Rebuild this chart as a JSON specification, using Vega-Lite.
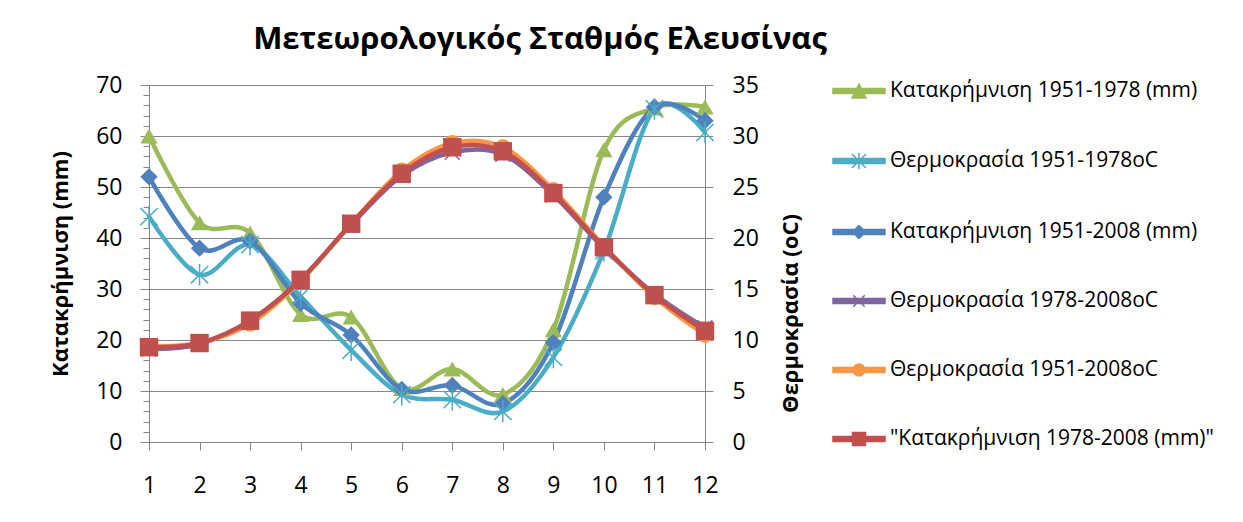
{
  "$schema": "https://vega.github.io/schema/vega-lite/v6.json",
  "width": 556,
  "height": 357,
  "autosize": "none",
  "padding": {"left": 149, "top": 85, "right": 538, "bottom": 80},
  "background": "white",
  "title": {"text": "Μετεωρολογικός Σταθμός Ελευσίνας", "font": "Open Sans", "fontSize": 31, "fontWeight": "bold", "color": "black", "anchor": "middle", "frame": "group", "dx": 113, "offset": 8},
  "data": {"values": [
    {"month": 1, "series": "Κατακρήμνιση 1951-1978 (mm)", "value": 60},
    {"month": 2, "series": "Κατακρήμνιση 1951-1978 (mm)", "value": 43},
    {"month": 3, "series": "Κατακρήμνιση 1951-1978 (mm)", "value": 41},
    {"month": 4, "series": "Κατακρήμνιση 1951-1978 (mm)", "value": 25},
    {"month": 5, "series": "Κατακρήμνιση 1951-1978 (mm)", "value": 24.5},
    {"month": 6, "series": "Κατακρήμνιση 1951-1978 (mm)", "value": 10.5},
    {"month": 7, "series": "Κατακρήμνιση 1951-1978 (mm)", "value": 14.3},
    {"month": 8, "series": "Κατακρήμνιση 1951-1978 (mm)", "value": 9.3},
    {"month": 9, "series": "Κατακρήμνιση 1951-1978 (mm)", "value": 22},
    {"month": 10, "series": "Κατακρήμνιση 1951-1978 (mm)", "value": 57.3},
    {"month": 11, "series": "Κατακρήμνιση 1951-1978 (mm)", "value": 65.5},
    {"month": 12, "series": "Κατακρήμνιση 1951-1978 (mm)", "value": 65.7},
    {"month": 1, "series": "Θερμοκρασία 1951-1978oC", "value": 44.2},
    {"month": 2, "series": "Θερμοκρασία 1951-1978oC", "value": 32.8},
    {"month": 3, "series": "Θερμοκρασία 1951-1978oC", "value": 38.7},
    {"month": 4, "series": "Θερμοκρασία 1951-1978oC", "value": 28.5},
    {"month": 5, "series": "Θερμοκρασία 1951-1978oC", "value": 18},
    {"month": 6, "series": "Θερμοκρασία 1951-1978oC", "value": 9.3},
    {"month": 7, "series": "Θερμοκρασία 1951-1978oC", "value": 8.3},
    {"month": 8, "series": "Θερμοκρασία 1951-1978oC", "value": 6},
    {"month": 9, "series": "Θερμοκρασία 1951-1978oC", "value": 16.6},
    {"month": 10, "series": "Θερμοκρασία 1951-1978oC", "value": 37.5},
    {"month": 11, "series": "Θερμοκρασία 1951-1978oC", "value": 65.3},
    {"month": 12, "series": "Θερμοκρασία 1951-1978oC", "value": 60.7},
    {"month": 1, "series": "Κατακρήμνιση 1951-2008 (mm)", "value": 52},
    {"month": 2, "series": "Κατακρήμνιση 1951-2008 (mm)", "value": 38},
    {"month": 3, "series": "Κατακρήμνιση 1951-2008 (mm)", "value": 39.4},
    {"month": 4, "series": "Κατακρήμνιση 1951-2008 (mm)", "value": 27.2},
    {"month": 5, "series": "Κατακρήμνιση 1951-2008 (mm)", "value": 21},
    {"month": 6, "series": "Κατακρήμνιση 1951-2008 (mm)", "value": 10.3},
    {"month": 7, "series": "Κατακρήμνιση 1951-2008 (mm)", "value": 11.1},
    {"month": 8, "series": "Κατακρήμνιση 1951-2008 (mm)", "value": 7.5},
    {"month": 9, "series": "Κατακρήμνιση 1951-2008 (mm)", "value": 19.5},
    {"month": 10, "series": "Κατακρήμνιση 1951-2008 (mm)", "value": 48},
    {"month": 11, "series": "Κατακρήμνιση 1951-2008 (mm)", "value": 65.7},
    {"month": 12, "series": "Κατακρήμνιση 1951-2008 (mm)", "value": 63},
    {"month": 1, "series": "Θερμοκρασία 1978-2008oC", "value": 9.1},
    {"month": 2, "series": "Θερμοκρασία 1978-2008oC", "value": 9.6},
    {"month": 3, "series": "Θερμοκρασία 1978-2008oC", "value": 11.9},
    {"month": 4, "series": "Θερμοκρασία 1978-2008oC", "value": 15.9},
    {"month": 5, "series": "Θερμοκρασία 1978-2008oC", "value": 21.3},
    {"month": 6, "series": "Θερμοκρασία 1978-2008oC", "value": 26.1},
    {"month": 7, "series": "Θερμοκρασία 1978-2008oC", "value": 28.4},
    {"month": 8, "series": "Θερμοκρασία 1978-2008oC", "value": 28.2},
    {"month": 9, "series": "Θερμοκρασία 1978-2008oC", "value": 24.2},
    {"month": 10, "series": "Θερμοκρασία 1978-2008oC", "value": 19},
    {"month": 11, "series": "Θερμοκρασία 1978-2008oC", "value": 14.5},
    {"month": 12, "series": "Θερμοκρασία 1978-2008oC", "value": 11.2},
    {"month": 1, "series": "Θερμοκρασία 1951-2008oC", "value": 9.4},
    {"month": 2, "series": "Θερμοκρασία 1951-2008oC", "value": 9.7},
    {"month": 3, "series": "Θερμοκρασία 1951-2008oC", "value": 11.6},
    {"month": 4, "series": "Θερμοκρασία 1951-2008oC", "value": 15.8},
    {"month": 5, "series": "Θερμοκρασία 1951-2008oC", "value": 21.4},
    {"month": 6, "series": "Θερμοκρασία 1951-2008oC", "value": 26.6},
    {"month": 7, "series": "Θερμοκρασία 1951-2008oC", "value": 29.3},
    {"month": 8, "series": "Θερμοκρασία 1951-2008oC", "value": 28.9},
    {"month": 9, "series": "Θερμοκρασία 1951-2008oC", "value": 24.7},
    {"month": 10, "series": "Θερμοκρασία 1951-2008oC", "value": 19.2},
    {"month": 11, "series": "Θερμοκρασία 1951-2008oC", "value": 14.2},
    {"month": 12, "series": "Θερμοκρασία 1951-2008oC", "value": 10.5},
    {"month": 1, "series": "\"Κατακρήμνιση 1978-2008 (mm)\"", "value": 9.3},
    {"month": 2, "series": "\"Κατακρήμνιση 1978-2008 (mm)\"", "value": 9.7},
    {"month": 3, "series": "\"Κατακρήμνιση 1978-2008 (mm)\"", "value": 11.9},
    {"month": 4, "series": "\"Κατακρήμνιση 1978-2008 (mm)\"", "value": 15.9},
    {"month": 5, "series": "\"Κατακρήμνιση 1978-2008 (mm)\"", "value": 21.4},
    {"month": 6, "series": "\"Κατακρήμνιση 1978-2008 (mm)\"", "value": 26.3},
    {"month": 7, "series": "\"Κατακρήμνιση 1978-2008 (mm)\"", "value": 28.9},
    {"month": 8, "series": "\"Κατακρήμνιση 1978-2008 (mm)\"", "value": 28.5},
    {"month": 9, "series": "\"Κατακρήμνιση 1978-2008 (mm)\"", "value": 24.4},
    {"month": 10, "series": "\"Κατακρήμνιση 1978-2008 (mm)\"", "value": 19.1},
    {"month": 11, "series": "\"Κατακρήμνιση 1978-2008 (mm)\"", "value": 14.4},
    {"month": 12, "series": "\"Κατακρήμνιση 1978-2008 (mm)\"", "value": 10.9}
  ]},
  "layer": [
    {
      "transform": [{"filter": {"field": "series", "oneOf": ["Κατακρήμνιση 1951-1978 (mm)", "Θερμοκρασία 1951-1978oC", "Κατακρήμνιση 1951-2008 (mm)"]}}],
      "encoding": {
        "x": {"field": "month", "type": "quantitative", "scale": {"domain": [1, 12], "nice": false, "zero": false},
              "axis": {"values": [1,2,3,4,5,6,7,8,9,10,11,12], "format": "d", "grid": false, "tickSize": 8, "labelPadding": 24, "title": null, "domainColor": "#868686", "tickColor": "#868686", "labelFlush": false}},
        "y": {"field": "value", "type": "quantitative", "scale": {"domain": [0, 70], "nice": false},
              "axis": {"orient": "left", "values": [0,10,20,30,40,50,60,70], "title": "Κατακρήμνιση (mm)", "grid": true, "gridColor": "#868686", "domainColor": "#868686", "tickColor": "#868686", "tickSize": 9, "labelPadding": 18, "titleX": -89, "titleY": 178.5, "titleAngle": -90, "titleAlign": "center", "titleBaseline": "middle"}},
        "color": {"field": "series", "type": "nominal",
                  "scale": {"domain": ["Κατακρήμνιση 1951-1978 (mm)", "Θερμοκρασία 1951-1978oC", "Κατακρήμνιση 1951-2008 (mm)", "Θερμοκρασία 1978-2008oC", "Θερμοκρασία 1951-2008oC", "\"Κατακρήμνιση 1978-2008 (mm)\""],
                            "range": ["#9BBB59", "#4BACC6", "#4F81BD", "#8064A2", "#F79646", "#C0504D"]},
                  "legend": {"orient": "none", "legendX": 683, "legendY": -21, "title": null, "labelFont": "Open Sans", "labelFontSize": 21, "labelColor": "black", "labelLimit": 0, "symbolSize": 2704, "symbolStrokeWidth": 1.5, "rowPadding": 32, "labelOffset": 4,
                    "encode": {"symbols": {"update": {
                      "shape": {"signal": "['M-1,-0.1H1V0.1H-1ZM-0.27,0.27L0,-0.27L0.27,0.27Z', 'M-1,-0.1H1V0.1H-1ZM-0.27,-0.27L0.27,0.27M0.27,-0.27L-0.27,0.27M0,-0.32V0.32', 'M-1,-0.1H1V0.1H-1ZM-0.25,0L0,-0.25L0.25,0L0,0.25Z', 'M-1,-0.1H1V0.1H-1ZM-0.22,-0.22L0.22,0.22M0.22,-0.22L-0.22,0.22', 'M-1,-0.1H1V0.1H-1ZM-0.23,0A0.23,0.23,0,1,1,0.23,0A0.23,0.23,0,1,1,-0.23,0Z', 'M-1,-0.1H1V0.1H-1ZM-0.25,-0.25H0.25V0.25H-0.25Z'][indexof(domain('color'), datum.value)]"},
                      "fill": {"scale": "color", "field": "value"},
                      "stroke": {"scale": "color", "field": "value"},
                      "strokeWidth": {"value": 1.5},
                      "opacity": {"value": 1},
                      "size": {"value": 2704}
                    }}}}
        }
      },
      "layer": [
        {"mark": {"type": "line", "interpolate": "cardinal", "strokeWidth": 4.5, "strokeJoin": "round", "strokeCap": "round"}},
        {"transform": [{"filter": {"field": "series", "oneOf": ["Κατακρήμνιση 1951-1978 (mm)"]}}],
         "mark": {"type": "point", "filled": true, "opacity": 1, "size": 300, "shape": "triangle-up"}},
        {"transform": [{"filter": {"field": "series", "oneOf": ["Κατακρήμνιση 1951-2008 (mm)"]}}],
         "mark": {"type": "point", "filled": true, "opacity": 1, "size": 300, "shape": "diamond"}},
        {"transform": [{"filter": {"field": "series", "oneOf": ["Θερμοκρασία 1951-1978oC"]}}],
         "mark": {"type": "point", "filled": false, "opacity": 1, "size": 300, "strokeWidth": 1.5, "shape": "M-1,-1L1,1M1,-1L-1,1M0,-1.25V1.25"}}
      ]
    },
    {
      "transform": [{"filter": {"field": "series", "oneOf": ["Θερμοκρασία 1978-2008oC", "Θερμοκρασία 1951-2008oC", "\"Κατακρήμνιση 1978-2008 (mm)\""]}}],
      "encoding": {
        "x": {"field": "month", "type": "quantitative"},
        "y": {"field": "value", "type": "quantitative", "scale": {"domain": [0, 35], "nice": false},
              "axis": {"orient": "right", "values": [0,5,10,15,20,25,30,35], "title": "Θερμοκρασία (oC)", "grid": false, "domainColor": "#868686", "tickColor": "#868686", "tickSize": 8, "labelPadding": 19, "titleX": 85, "titleY": 228, "titleAngle": -90, "titleAlign": "center", "titleBaseline": "middle"}},
        "color": {"field": "series", "type": "nominal"}
      },
      "layer": [
        {"mark": {"type": "line", "interpolate": "cardinal", "strokeWidth": 4.5, "strokeJoin": "round", "strokeCap": "round"}},
        {"transform": [{"filter": {"field": "series", "oneOf": ["Θερμοκρασία 1978-2008oC"]}}],
         "mark": {"type": "point", "filled": false, "opacity": 1, "size": 220, "strokeWidth": 1.5, "shape": "M-1,-1L1,1M1,-1L-1,1"}},
        {"transform": [{"filter": {"field": "series", "oneOf": ["Θερμοκρασία 1951-2008oC"]}}],
         "mark": {"type": "point", "filled": true, "opacity": 1, "size": 260, "shape": "circle"}},
        {"transform": [{"filter": {"field": "series", "oneOf": ["\"Κατακρήμνιση 1978-2008 (mm)\""]}}],
         "mark": {"type": "point", "filled": true, "opacity": 1, "size": 340, "shape": "square"}}
      ]
    },
    {
      "transform": [{"filter": {"field": "series", "oneOf": ["Κατακρήμνιση 1951-1978 (mm)"]}}],
      "mark": {"type": "point", "opacity": 0},
      "encoding": {
        "x": {"field": "month", "type": "quantitative"},
        "y": {"field": "value", "type": "quantitative", "scale": {"domain": [0, 70], "nice": false},
              "axis": {"orient": "left", "values": [2,4,6,8,12,14,16,18,22,24,26,28,32,34,36,38,42,44,46,48,52,54,56,58,62,64,66,68], "labels": false, "domain": false, "grid": false, "tickSize": 6, "tickColor": "#868686", "title": null}}
      }
    }
  ],
  "resolve": {"scale": {"y": "independent"}},
  "config": {
    "view": {"stroke": null},
    "axis": {"labelFont": "Open Sans", "labelFontSize": 23, "labelColor": "black", "titleFont": "Open Sans", "titleFontSize": 22, "titleFontWeight": "bold", "titleColor": "black", "domainWidth": 1, "tickWidth": 1}
  }
}
